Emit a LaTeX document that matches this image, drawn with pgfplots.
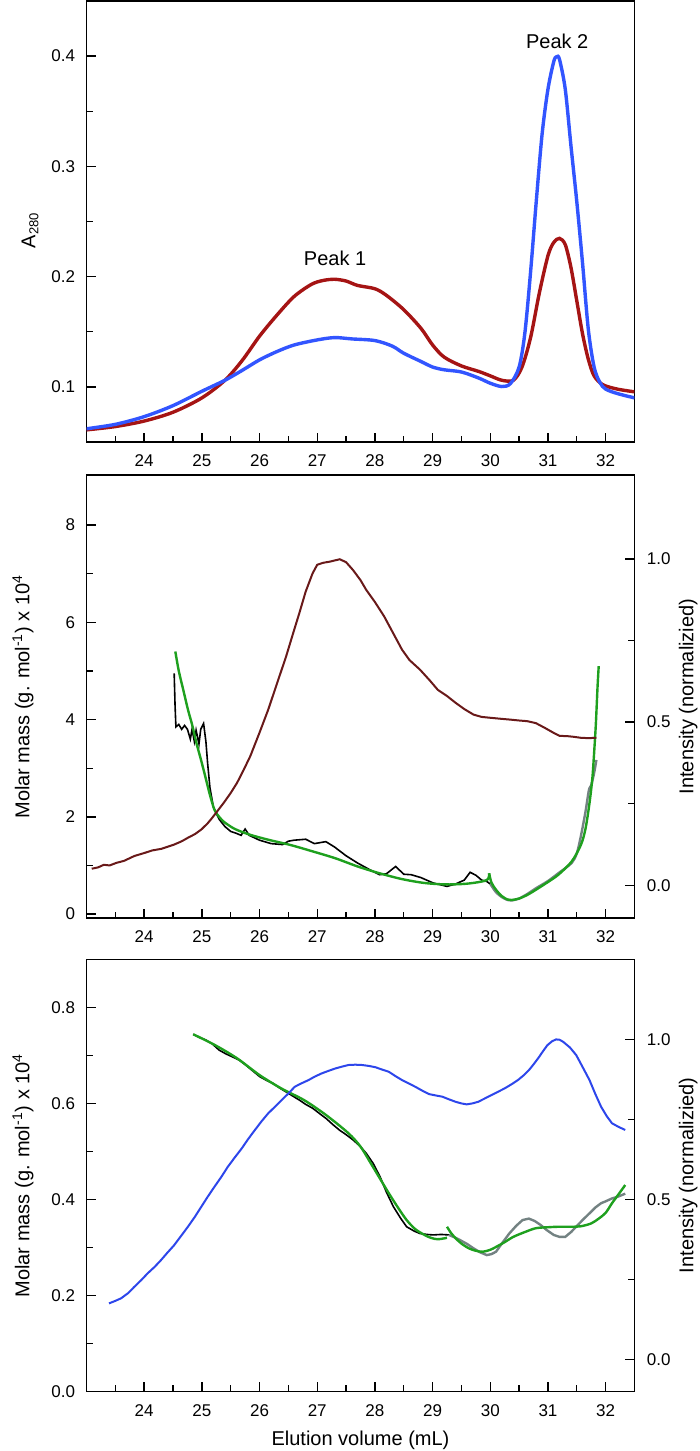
\documentclass[border=0pt]{standalone}
\usepackage{fontspec}
\setmainfont{Liberation Sans}
\usepackage{pgfplots}
\pgfplotsset{compat=1.18}
\definecolor{cred}{RGB}{165,20,20}
\definecolor{cblue}{RGB}{50,85,255}
\definecolor{cmaroon}{RGB}{105,25,25}
\definecolor{cblue2}{RGB}{45,70,235}
\definecolor{cgreen}{RGB}{30,160,30}
\definecolor{cgray}{RGB}{115,130,130}
\pgfplotsset{
 base/.style={scale only axis, width=274pt, xmin=23, xmax=32.5,
   xtick={24,...,32}, minor xtick={23.5,24.5,...,32.5},
   tick align=inside, major tick length=4.5pt, minor tick length=3pt,
   every tick/.style={black, line width=0.7pt},
   axis line style={line width=0.9pt},
   ticklabel style={font=\fontsize{8.5}{10}\selectfont},
   label style={font=\fontsize{10}{12}\selectfont},
   /pgf/number format/assume math mode=true,
   xticklabel style={yshift=-3pt},
   anchor=north west},
 leftax/.style={base, xtick pos=left, ytick pos=left,
   yticklabel style={xshift=-2.2pt},
   every axis y label/.style={at={(axis description cs:-0.116,0.5)}, rotate=90, anchor=center}},
 rightax/.style={base, axis x line=none, axis y line*=right, ytick pos=right,
   ymin=-0.1, ytick={0,0.5,1}, minor ytick={0.25,0.75},
   yticklabel style={xshift=2.7pt, /pgf/number format/.cd, fixed, fixed zerofill, precision=1},
   every axis y label/.style={at={(axis description cs:1.098,0.5)}, rotate=90, anchor=center}},
}
\begin{document}
\begin{tikzpicture}
\useasboundingbox (0pt,0pt) rectangle (350pt,-725.5pt);
% ---------------- top panel
\begin{axis}[leftax, at={(43.25pt,-0.5pt)}, height=220.5pt,
  ymin=0.05, ymax=0.45, ytick={0.1,0.2,0.3,0.4}, minor ytick={0.15,0.25,0.35},
  every axis y label/.style={at={(axis description cs:-0.103,0.48)}, rotate=90, anchor=center},
  ylabel={A\textsubscript{\fontsize{6.5}{7}\selectfont 280}}]
\addplot[cred, line width=1.7pt, smooth] coordinates {
(23.0,0.061) (23.5,0.064) (24.0,0.069) (24.5,0.077) (25.0,0.090) (25.4,0.106)
(25.7,0.124) (26.0,0.146) (26.3,0.165) (26.6,0.182) (26.9,0.193) (27.1,0.1965)
(27.3,0.1976) (27.5,0.196) (27.7,0.192) (28.0,0.189) (28.2,0.183) (28.5,0.170)
(28.8,0.153) (29.0,0.138) (29.2,0.127) (29.5,0.119) (29.8,0.114) (30.0,0.110)
(30.2,0.106) (30.4,0.106) (30.55,0.118) (30.7,0.145) (30.85,0.185) (31.0,0.219)
(31.1,0.231) (31.2,0.2347) (31.3,0.229) (31.4,0.208) (31.5,0.178) (31.6,0.148)
(31.7,0.125) (31.8,0.110) (31.95,0.102) (32.2,0.098) (32.5,0.0955)};
\addplot[cblue, line width=1.7pt, smooth] coordinates {
(23.0,0.062) (23.5,0.066) (24.0,0.073) (24.5,0.083) (25.0,0.096) (25.4,0.106)
(25.7,0.115) (26.0,0.1245) (26.3,0.132) (26.6,0.138) (27.0,0.1426) (27.3,0.1447)
(27.6,0.1435) (28.0,0.142) (28.3,0.137) (28.5,0.1305) (28.8,0.123) (29.0,0.118)
(29.2,0.1155) (29.5,0.1135) (29.8,0.108) (30.0,0.1033) (30.2,0.1003) (30.35,0.103)
(30.5,0.118) (30.6,0.149) (30.7,0.205) (30.8,0.270) (30.9,0.330) (31.0,0.370)
(31.1,0.395) (31.15,0.3995) (31.2,0.397) (31.3,0.370) (31.4,0.318) (31.5,0.268)
(31.6,0.212) (31.7,0.152) (31.8,0.118) (31.9,0.104) (32.0,0.098) (32.2,0.094) (32.5,0.090)};
\node[font=\fontsize{10}{12}\selectfont] at (axis cs:27.31,0.2166) {Peak 1};
\node[font=\fontsize{10}{12}\selectfont] at (axis cs:31.16,0.413) {Peak 2};
\end{axis}
% ---------------- middle panel
\begin{axis}[leftax, at={(43.25pt,-237.5pt)}, height=221.5pt,
  ymin=-0.08, ymax=9.03, ytick={0,2,4,6,8}, minor ytick={1,3,5,7},
  ylabel={Molar mass (g. mol\textsuperscript{-1}) x 10\textsuperscript{4}}]
\addplot[black, line width=0.8pt] coordinates {
(24.52,4.95) (24.535,4.3) (24.55,3.85) (24.60,3.90) (24.65,3.80) (24.70,3.88)
(24.75,3.80) (24.80,3.60) (24.83,3.80) (24.87,3.55) (24.90,3.78) (24.95,3.50)
(24.98,3.80) (25.03,3.92) (25.07,3.55) (25.10,3.10) (25.14,2.60) (25.20,2.20)
(25.30,1.95) (25.40,1.80) (25.50,1.70) (25.60,1.66) (25.68,1.62) (25.75,1.75)
(25.82,1.62) (26.0,1.52) (26.2,1.45) (26.4,1.43) (26.5,1.50) (26.6,1.52)
(26.8,1.54) (26.95,1.45) (27.15,1.49) (27.3,1.38) (27.5,1.20) (27.7,1.05)
(27.9,0.92) (28.08,0.81) (28.2,0.83) (28.36,0.98) (28.5,0.82) (28.63,0.81)
(28.8,0.75) (29.01,0.64) (29.15,0.60) (29.25,0.57) (29.4,0.62) (29.55,0.70)
(29.65,0.86) (29.75,0.80) (29.85,0.70) (29.94,0.67) (30.0,0.62)};
\addplot[cgray, line width=1.2pt, smooth] coordinates {
(30.0,0.62) (30.1,0.45) (30.2,0.35) (30.3,0.29) (30.37,0.28) (30.5,0.32)
(30.65,0.42) (30.79,0.53) (31.0,0.68) (31.18,0.84) (31.41,1.05) (31.5,1.25)
(31.57,1.60) (31.65,2.1) (31.71,2.55) (31.75,2.65) (31.8,2.9) (31.84,3.17)};
\addplot[cgreen, line width=1.2pt, smooth] coordinates {
(24.54,5.40) (24.60,5.00) (24.68,4.60) (24.76,4.20) (24.83,3.90) (24.91,3.50)
(24.99,3.15) (25.07,2.78) (25.14,2.45) (25.22,2.14) (25.30,2.00) (25.38,1.90)
(25.50,1.80) (25.61,1.73) (25.84,1.63) (26.15,1.53) (26.54,1.42) (26.92,1.29)
(27.31,1.15) (27.70,0.98) (28.08,0.84) (28.47,0.72) (28.86,0.64) (29.25,0.61)
(29.63,0.63) (29.94,0.70) (29.98,0.84)};
\addplot[cgreen, line width=1.2pt, smooth] coordinates {
(29.98,0.84) (30.02,0.65) (30.1,0.50) (30.2,0.37) (30.3,0.30) (30.37,0.29)
(30.5,0.32) (30.65,0.40) (30.79,0.50) (31.0,0.66) (31.18,0.81) (31.41,1.08)
(31.57,1.42) (31.65,1.75) (31.72,2.28) (31.77,2.8) (31.80,3.31) (31.83,3.9)
(31.86,4.68) (31.88,5.1)};
\end{axis}
\begin{axis}[rightax, at={(43.25pt,-237.5pt)}, height=221.5pt, ymax=1.257,
  ylabel={Intensity (normalizied)}]
\addplot[cmaroon, line width=1pt] coordinates {
(23.09,0.051) (23.2,0.055) (23.3,0.063) (23.4,0.061) (23.52,0.069) (23.65,0.075)
(23.83,0.090) (24.0,0.099) (24.14,0.107) (24.3,0.112) (24.52,0.125) (24.65,0.135)
(24.76,0.146) (24.88,0.157) (24.99,0.171) (25.1,0.190) (25.18,0.207) (25.28,0.230)
(25.38,0.253) (25.5,0.283) (25.61,0.314) (25.72,0.352) (25.84,0.396) (26.0,0.468)
(26.15,0.538) (26.3,0.617) (26.46,0.701) (26.58,0.771) (26.69,0.834) (26.8,0.900)
(26.92,0.956) (27.0,0.982) (27.1,0.988) (27.23,0.992) (27.39,0.999) (27.5,0.990)
(27.62,0.966) (27.75,0.935) (27.85,0.905) (28.0,0.868) (28.16,0.824) (28.3,0.778)
(28.47,0.722) (28.6,0.690) (28.78,0.661) (28.95,0.628) (29.09,0.599) (29.25,0.580)
(29.40,0.559) (29.55,0.540) (29.71,0.523) (29.85,0.516) (30.02,0.513) (30.2,0.510)
(30.33,0.508) (30.5,0.505) (30.64,0.503) (30.79,0.497) (30.95,0.482) (31.10,0.467)
(31.2,0.458) (31.34,0.457) (31.45,0.455) (31.57,0.452) (31.7,0.451) (31.84,0.452)};
\end{axis}
% ---------------- bottom panel
\begin{axis}[leftax, at={(43.25pt,-479.7pt)}, height=216pt,
  ymin=0, ymax=0.9, ytick={0,0.2,0.4,0.6,0.8}, minor ytick={0.1,0.3,0.5,0.7},
  yticklabel style={/pgf/number format/.cd, fixed, fixed zerofill, precision=1},
  ylabel={Molar mass (g. mol\textsuperscript{-1}) x 10\textsuperscript{4}},
  every axis x label/.style={at={(axis description cs:0.5,-0.1125)}, anchor=center},
  xlabel={Elution volume (mL)}]
\addplot[black, line width=0.8pt] coordinates {
(24.85,0.744) (24.95,0.738) (25.07,0.732) (25.18,0.724) (25.30,0.711) (25.42,0.703)
(25.53,0.697) (25.65,0.690) (25.76,0.680) (25.88,0.668) (26.0,0.656) (26.12,0.648)
(26.23,0.642) (26.35,0.632) (26.46,0.624) (26.58,0.615) (26.69,0.607) (26.8,0.598)
(26.92,0.590) (27.05,0.578) (27.15,0.569) (27.28,0.555) (27.39,0.544) (27.5,0.535)
(27.62,0.524) (27.75,0.510) (27.85,0.496) (27.97,0.475) (28.09,0.447) (28.2,0.415)
(28.32,0.385) (28.45,0.360) (28.55,0.343) (28.68,0.334) (28.78,0.329) (28.9,0.327)
(29.01,0.326) (29.15,0.327) (29.28,0.326)};
\addplot[cgray, line width=1.2pt] coordinates {
(29.28,0.326) (29.4,0.320) (29.48,0.315) (29.6,0.307) (29.71,0.298) (29.82,0.290)
(29.94,0.284) (30.02,0.286) (30.10,0.291) (30.2,0.308) (30.33,0.329) (30.45,0.345)
(30.56,0.357) (30.67,0.360) (30.77,0.355) (30.87,0.347) (30.98,0.336) (31.10,0.326)
(31.2,0.322) (31.30,0.322) (31.4,0.332) (31.49,0.343) (31.6,0.357) (31.72,0.371)
(31.82,0.383) (31.92,0.392) (32.0,0.396) (32.11,0.402) (32.22,0.406) (32.34,0.412)};
\addplot[cgreen, line width=1.2pt, smooth] coordinates {
(24.85,0.744) (25.22,0.722) (25.61,0.694) (26.0,0.659) (26.38,0.631) (26.77,0.607)
(27.15,0.576) (27.54,0.538) (27.75,0.510) (27.93,0.475) (28.08,0.445) (28.24,0.413)
(28.4,0.383) (28.55,0.357) (28.7,0.338) (28.86,0.326) (28.97,0.320) (29.09,0.317) (29.25,0.320)};
\addplot[cgreen, line width=1.2pt, smooth] coordinates {
(29.25,0.343) (29.32,0.330) (29.40,0.319) (29.5,0.308) (29.63,0.298) (29.75,0.293)
(29.87,0.291) (30.0,0.295) (30.10,0.301) (30.25,0.311) (30.40,0.322) (30.6,0.332)
(30.79,0.340) (31.0,0.342) (31.18,0.343) (31.4,0.343) (31.57,0.344) (31.75,0.350)
(31.88,0.360) (32.0,0.372) (32.11,0.392) (32.22,0.410) (32.34,0.430)};
\end{axis}
\begin{axis}[rightax, at={(43.25pt,-479.7pt)}, height=216pt, ymax=1.25,
  ylabel={Intensity (normalizied)}]
\addplot[cblue2, line width=1pt] coordinates {
(23.39,0.175) (23.5,0.183) (23.60,0.191) (23.72,0.207) (23.83,0.227) (23.95,0.248)
(24.06,0.269) (24.18,0.289) (24.29,0.310) (24.4,0.333) (24.52,0.357) (24.64,0.386)
(24.76,0.415) (24.88,0.446) (24.99,0.477) (25.1,0.508) (25.22,0.540) (25.34,0.571)
(25.45,0.602) (25.57,0.631) (25.69,0.659) (25.8,0.688) (25.92,0.717) (26.03,0.743)
(26.15,0.769) (26.27,0.790) (26.38,0.810) (26.5,0.831) (26.61,0.852) (26.73,0.863)
(26.85,0.873) (26.96,0.884) (27.08,0.894) (27.2,0.902) (27.31,0.909) (27.43,0.915)
(27.54,0.920) (27.66,0.921) (27.78,0.920) (27.9,0.917) (28.01,0.913) (28.12,0.906)
(28.24,0.899) (28.35,0.886) (28.47,0.873) (28.58,0.863) (28.70,0.852) (28.82,0.840)
(28.94,0.829) (29.05,0.825) (29.17,0.821) (29.28,0.813) (29.40,0.805) (29.5,0.800)
(29.59,0.797) (29.69,0.800) (29.79,0.805) (29.9,0.815) (30.02,0.826) (30.13,0.836)
(30.25,0.847) (30.37,0.860) (30.48,0.873) (30.58,0.888) (30.67,0.904) (30.75,0.922)
(30.83,0.941) (30.91,0.962) (30.99,0.982) (31.07,0.994) (31.14,1.000) (31.2,0.999)
(31.26,0.993) (31.38,0.975) (31.49,0.951) (31.6,0.914) (31.72,0.873) (31.82,0.830)
(31.92,0.790) (32.02,0.760) (32.11,0.738) (32.22,0.727) (32.34,0.717)};
\end{axis}
\end{tikzpicture}
\end{document}
